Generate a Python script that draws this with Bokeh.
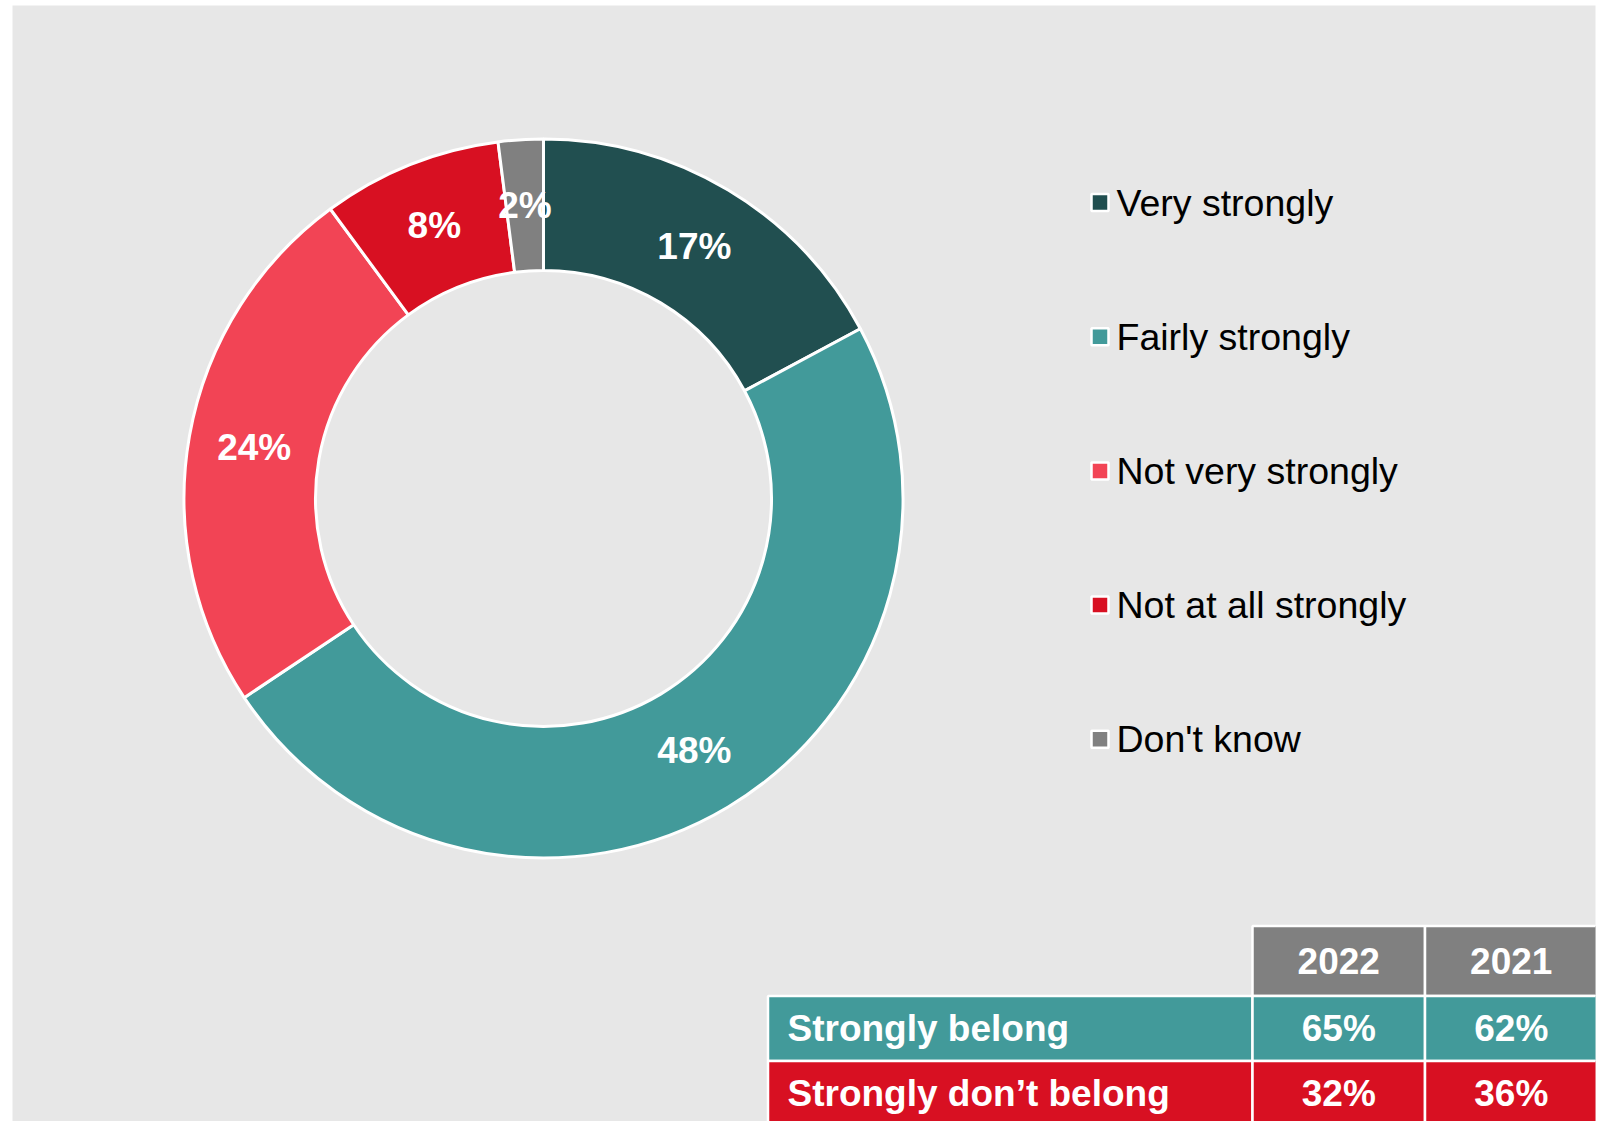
import math
from bokeh.plotting import figure
from bokeh.models import Range1d, ColumnDataSource
from bokeh.core.properties import value
from bokeh.embed import file_html
from bokeh.resources import INLINE

# ---------------- data ----------------
categories = ["Very strongly", "Fairly strongly", "Not very strongly", "Not at all strongly", "Don't know"]
shares = [17, 48, 24, 8, 2]
colors = ["#214F50", "#429A9A", "#F24455", "#D81022", "#808080"]

table_rows = ["Strongly belong", "Strongly don\u2019t belong"]
row_colors = ["#429A9A", "#D81022"]
table_years = ["2022", "2021"]
vals_2022 = [65, 32]
vals_2021 = [62, 36]

# ---------------- layout (pixel-like data units) ----------------
W, H = 1609, 1121
FW, FH = 1583, 1116
BG = "#E7E7E7"
FONT = value("Liberation Sans")

cx, cy = 531, 623
r_out, r_in = 359.5, 228

p = figure(width=W, height=H, output_backend="svg", toolbar_location=None,
           x_range=Range1d(0, FW), y_range=Range1d(0, FH),
           x_axis_type=None, y_axis_type=None,
           min_border_left=12, min_border_right=14, min_border_top=5, min_border_bottom=0)
p.background_fill_color = BG
p.border_fill_color = "white"
p.outline_line_color = None
p.grid.visible = False

# donut
total = sum(shares)
starts, ends, lx, ly, labels = [], [], [], [], []
cum = 0
r_mid = (r_out + r_in) / 2
for s in shares:
    a0 = math.pi / 2 - 2 * math.pi * cum / total
    cum += s
    a1 = math.pi / 2 - 2 * math.pi * cum / total
    starts.append(a0)
    ends.append(a1)
    am = (a0 + a1) / 2
    lx.append(cx + r_mid * math.cos(am))
    ly.append(cy + r_mid * math.sin(am))
    labels.append(f"{s}%")

src = ColumnDataSource(dict(start=starts, end=ends, color=colors, lx=lx, ly=ly, label=labels))
p.annular_wedge(x=cx, y=cy, inner_radius=r_in, outer_radius=r_out,
                start_angle="start", end_angle="end", direction="clock",
                fill_color="color", line_color="white", line_width=3, source=src)
p.text(x="lx", y="ly", text="label", source=src, text_color="white",
       text_font=FONT, text_font_style="bold", text_font_size="37px",
       text_align="center", text_baseline="middle")

# legend
leg_x = 1087.5
leg_top = 919
leg_step = 134.2
leg_y = [leg_top - i * leg_step for i in range(len(categories))]
lsrc = ColumnDataSource(dict(x=[leg_x] * len(categories), tx=[leg_x + 16.5] * len(categories),
                             y=leg_y, color=colors, name=categories))
p.scatter(x="x", y="y", marker="square", size=17, fill_color="color",
          line_color="white", line_width=2.5, source=lsrc)
p.text(x="tx", y="y", text="name", source=lsrc, text_color="black",
       text_font=FONT, text_font_size="37.5px", text_align="left", text_baseline="middle")

# table
x_edges = [755.5, 1240, 1412.5, 1585]
y_head = (195.5, 125.5)
row_h = 65
hsrc = ColumnDataSource(dict(left=x_edges[1:3], right=x_edges[2:4],
                             top=[y_head[0]] * 2, bottom=[y_head[1]] * 2, year=table_years,
                             tx=[(x_edges[1] + x_edges[2]) / 2, (x_edges[2] + x_edges[3]) / 2],
                             ty=[(y_head[0] + y_head[1]) / 2] * 2))
p.quad(left="left", right="right", top="top", bottom="bottom", source=hsrc,
       fill_color="#808080", line_color="white", line_width=2.5)
p.text(x="tx", y="ty", text="year", source=hsrc, text_color="white",
       text_font=FONT, text_font_style="bold", text_font_size="37px",
       text_align="center", text_baseline="middle")

for i, (name, v1, v2, col) in enumerate(zip(table_rows, vals_2022, vals_2021, row_colors)):
    top = y_head[1] - i * row_h
    bot = top - row_h
    rsrc = ColumnDataSource(dict(left=x_edges[:3], right=x_edges[1:], top=[top] * 3, bottom=[bot] * 3))
    p.quad(left="left", right="right", top="top", bottom="bottom", source=rsrc,
           fill_color=col, line_color="white", line_width=2.5)
    ty = (top + bot) / 2
    tsrc = ColumnDataSource(dict(x=[(x_edges[1] + x_edges[2]) / 2, (x_edges[2] + x_edges[3]) / 2],
                                 y=[ty, ty], t=[f"{v1}%", f"{v2}%"]))
    p.text(x="x", y="y", text="t", source=tsrc, text_color="white",
           text_font=FONT, text_font_style="bold", text_font_size="37px",
           text_align="center", text_baseline="middle")
    nsrc = ColumnDataSource(dict(x=[x_edges[0] + 19.5], y=[ty], t=[name]))
    p.text(x="x", y="y", text="t", source=nsrc, text_color="white",
           text_font=FONT, text_font_style="bold", text_font_size="37px",
           text_align="left", text_baseline="middle")

open("out.html", "w").write(file_html(p, INLINE))
